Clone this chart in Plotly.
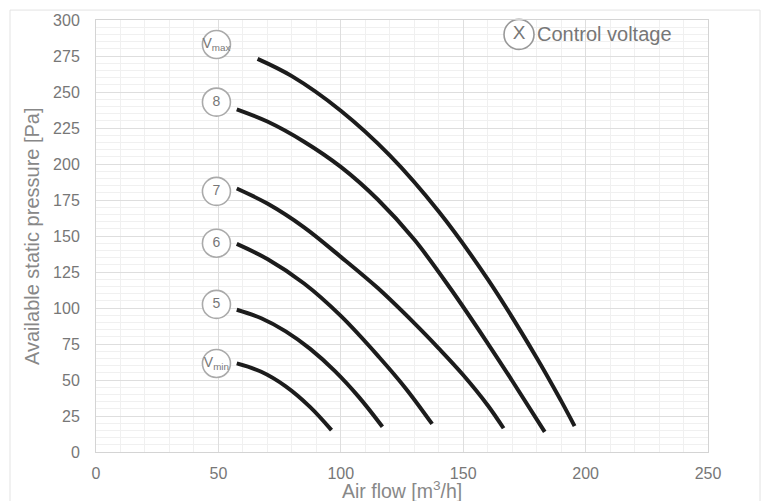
import plotly.graph_objects as go

# Fan curves: air flow [m3/h] vs available static pressure [Pa]
vmax_x = [66, 80, 100, 120, 140, 160, 180, 190, 195.5]
vmax_y = [273, 261, 237, 206, 167, 120, 65.5, 35.5, 18]
v8_x = [57.5, 70, 85, 100, 115, 130, 145, 160, 170, 183.3]
v8_y = [238, 229.5, 215.5, 198, 175.5, 147.5, 113, 75.5, 49.5, 14]
v7_x = [57.5, 70, 85, 100, 115, 130, 140, 150, 160, 166.5]
v7_y = [183, 172.5, 156, 135.5, 114, 89.5, 72, 53.5, 32.5, 16.5]
v6_x = [57.5, 70, 85, 100, 115.6, 126.6, 137.3]
v6_y = [144.5, 134, 117, 94.5, 66, 44, 19.5]
v5_x = [57.5, 67.5, 77.5, 87.5, 97.5, 107.5, 117]
v5_y = [98.8, 92.9, 83.8, 71.6, 56.3, 37.9, 17.5]
vmin_x = [57.5, 67.5, 77.5, 87.5, 96.2]
vmin_y = [61.5, 55.7, 45.6, 31.2, 15.2]

label_text = ["V<sub>max</sub>", "8", "7", "6", "5", "V<sub>min</sub>"]
label_x = [49.2, 49.2, 49.2, 49.2, 49.2, 49.2]
label_y = [283, 243, 181, 145, 102.5, 61.5]

x_ticks = [0, 50, 100, 150, 200, 250]
y_ticks = [0, 25, 50, 75, 100, 125, 150, 175, 200, 225, 250, 275, 300]

FONT = "Liberation Sans, Arial, Helvetica, sans-serif"
TXT = "#777777"

fig = go.Figure()
for xs, ys in [(vmax_x, vmax_y), (v8_x, v8_y), (v7_x, v7_y), (v6_x, v6_y), (v5_x, v5_y), (vmin_x, vmin_y)]:
    fig.add_trace(go.Scatter(x=xs, y=ys, mode="lines",
                             line=dict(color="#1c1c1c", width=4, shape="spline", smoothing=1.0),
                             hoverinfo="skip", showlegend=False))

fig.add_trace(go.Scatter(x=label_x, y=label_y, mode="markers+text", text=label_text,
                         textposition="middle center",
                         textfont=dict(family=FONT, size=14, color=TXT),
                         marker=dict(size=28, color="white", line=dict(color="#aaaaaa", width=1.6)),
                         cliponaxis=False, hoverinfo="skip", showlegend=False))

# key
fig.add_trace(go.Scatter(x=[172.8], y=[290], mode="markers+text", text=["X"],
                         textposition="middle center",
                         textfont=dict(family=FONT, size=19, color=TXT),
                         marker=dict(size=30, color="white", line=dict(color="#999999", width=1.6)),
                         cliponaxis=False, hoverinfo="skip", showlegend=False))
fig.add_annotation(x=179.3, y=290, xref="x", yref="y", text="Control voltage", showarrow=False,
                   xanchor="left", yanchor="middle", font=dict(family=FONT, size=20, color=TXT))

fig.add_annotation(x=0.5, y=-0.088, xref="paper", yref="paper", text="Air flow [m<sup>3</sup>/h]",
                   showarrow=False, xanchor="center", yanchor="middle", borderpad=0,
                   font=dict(family=FONT, size=19.5, color="#888888"))
fig.add_annotation(x=-0.1046, y=0.5, xref="paper", yref="paper", text="Available static pressure [Pa]",
                   showarrow=False, xanchor="center", yanchor="middle", textangle=-90,
                   font=dict(family=FONT, size=20, color="#888888"))

# outer frame
fig.add_shape(type="rect", xref="paper", yref="paper", x0=-0.1405, x1=1.085, y0=-0.3, y1=1.023,
              line=dict(color="#e3e3e3", width=1), layer="below")

fig.update_xaxes(range=[0, 250], tickvals=x_ticks, ticks="", showgrid=True, gridcolor="#dedede",
                 gridwidth=1, minor=dict(dtick=10, showgrid=True, gridcolor="#f0f0f0", gridwidth=1),
                 showline=True, linecolor="#d4d4d4", linewidth=1, mirror=True, zeroline=False,
                 tickfont=dict(family=FONT, size=16, color=TXT), ticklabelstandoff=7)
fig.update_yaxes(range=[0, 300], tickvals=y_ticks, ticks="", showgrid=True, gridcolor="#dedede",
                 gridwidth=1, minor=dict(dtick=5, showgrid=True, gridcolor="#f0f0f0", gridwidth=1),
                 showline=True, linecolor="#d4d4d4", linewidth=1, mirror=True, zeroline=False,
                 tickfont=dict(family=FONT, size=16, color=TXT), ticklabelstandoff=12)

fig.update_layout(width=763, height=501, margin=dict(l=96, r=55, t=18, b=49),
                  plot_bgcolor="white", paper_bgcolor="white", showlegend=False)

fig.write_html("out.html", config={"displayModeBar": False},
               post_script="document.body.style.margin='0';document.body.style.overflow='hidden';")
